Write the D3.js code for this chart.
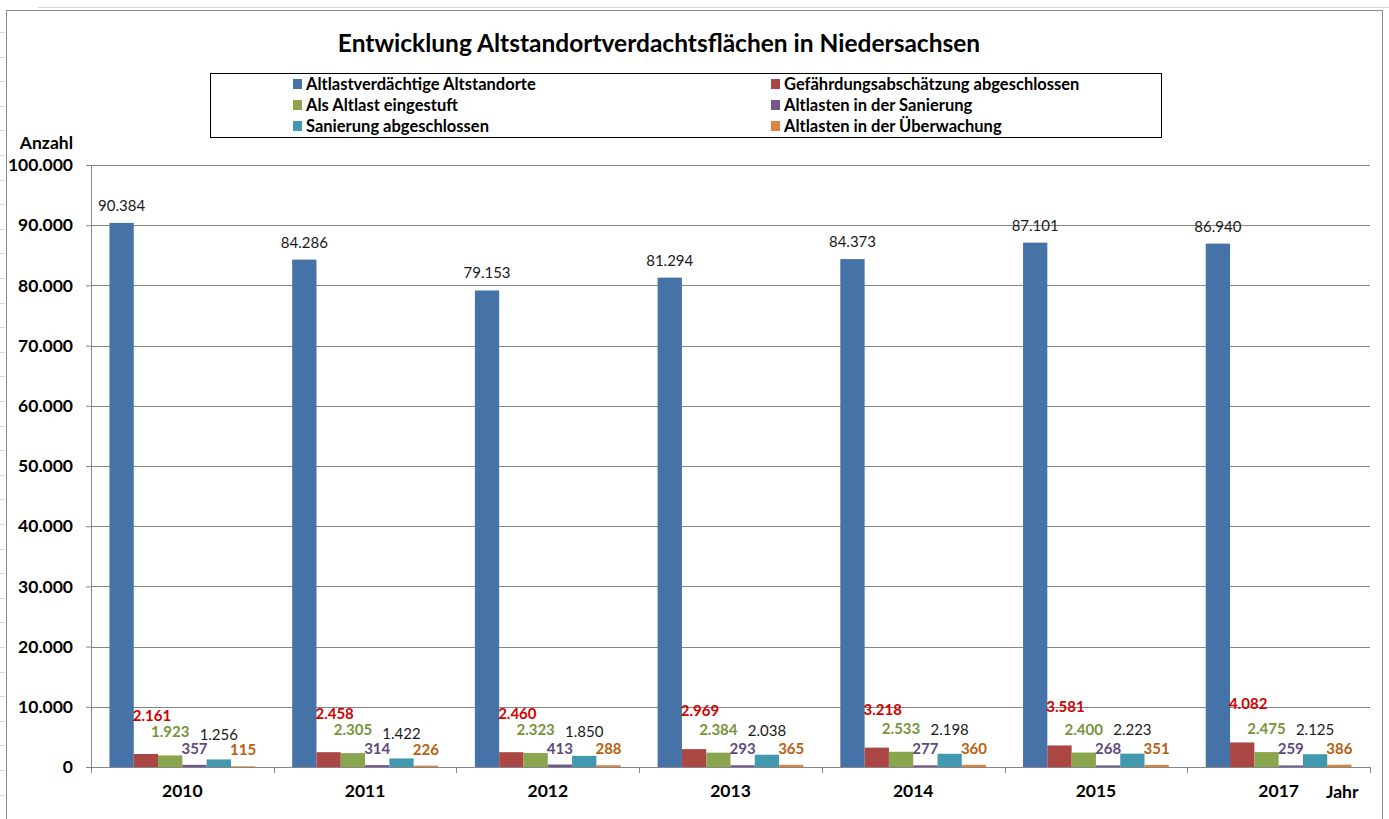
<!DOCTYPE html>
<html>
<head>
<meta charset="utf-8">
<script src="https://cdn.jsdelivr.net/npm/d3@7"></script>
<style>
  body { margin: 0; background: #fff; }
  svg { font-family: Lato, "Open Sans", sans-serif; }
</style>
</head>
<body>
<script>
const width = 1389;
const height = 819;

// Daten
const years = ['2010', '2011', '2012', '2013', '2014', '2015', '2017'];
const seriesNames = [
  'Altlastverdächtige Altstandorte',
  'Gefährdungsabschätzung abgeschlossen',
  'Als Altlast eingestuft',
  'Altlasten in der Sanierung',
  'Sanierung abgeschlossen',
  'Altlasten in der Überwachung'
];
const verdaechtig = [90384, 84286, 79153, 81294, 84373, 87101, 86940];
const gefaehrdung = [2161, 2458, 2460, 2969, 3218, 3581, 4082];
const eingestuft = [1923, 2305, 2323, 2384, 2533, 2400, 2475];
const inSanierung = [357, 314, 413, 293, 277, 268, 259];
const saniert = [1256, 1422, 1850, 2038, 2198, 2223, 2125];
const ueberwachung = [115, 226, 288, 365, 360, 351, 386];
const yTicks = [0, 10000, 20000, 30000, 40000, 50000, 60000, 70000, 80000, 90000, 100000];

const values = [verdaechtig, gefaehrdung, eingestuft, inSanierung, saniert, ueberwachung];

const barColors = ['#4572A7', '#AA4643', '#89A54E', '#71588F', '#4198AF', '#DB843D'];
const labelColors = ['#1a1a1a', '#d40000', '#77933C', '#604A7B', '#1a1a1a', '#B8600F'];
const labelBold = [false, true, true, true, false, true];
// Abstand Beschriftung über Balken (px) und seitlicher Versatz
const labelLift = [12, 33, 18, 11, 19, 11];
const labelShift = [0, 6, 0, 0, 0, 0];

const de = d3.formatLocale({ decimal: ',', thousands: '.', grouping: [3], currency: ['', ' €'] });
const fmt = de.format(',d');

const svg = d3.select('body').append('svg').attr('width', width).attr('height', height);

// Tabellenraster im Hintergrund (Excel)
svg.append('line').attr('x1', 38).attr('x2', width).attr('y1', 7.5).attr('y2', 7.5)
  .attr('stroke', '#d9d9d9');
d3.range(32, height, 24.6).forEach(y => {
  svg.append('line').attr('x1', 0).attr('x2', 5).attr('y1', Math.round(y) + 0.5).attr('y2', Math.round(y) + 0.5)
    .attr('stroke', '#d9d9d9');
});

// Diagrammrahmen
svg.append('rect').attr('x', 6.5).attr('y', 10.5).attr('width', 1376).attr('height', 830)
  .attr('fill', '#fff').attr('stroke', '#8c8c8c');

const margin = { left: 91, right: 1370, top: 165, bottom: 767 };

const x0 = d3.scaleBand().domain(years).range([margin.left, margin.right]).paddingInner(0).paddingOuter(0);
const x1 = d3.scaleBand().domain(d3.range(seriesNames.length)).range([0, x0.bandwidth()]).paddingInner(0).paddingOuter(0.76);
const y = d3.scaleLinear().domain([0, 100000]).range([margin.bottom, margin.top]);

// Titel
svg.append('text')
  .attr('x', 659).attr('y', 52)
  .attr('text-anchor', 'middle')
  .attr('font-size', 24.5).attr('font-weight', 'bold')
  .attr('fill', '#000')
  .text('Entwicklung Altstandortverdachtsflächen in Niedersachsen');

// Gitterlinien + y-Achse
const yAxis = svg.append('g')
  .attr('transform', `translate(${margin.left},0)`)
  .call(d3.axisLeft(y).tickValues(yTicks).tickFormat(fmt).tickSize(5).tickPadding(13));
yAxis.select('.domain').attr('stroke', '#868686').attr('d', `M0.5,${margin.top}V${margin.bottom + 6}`);
yAxis.selectAll('.tick line').attr('stroke', '#868686');
yAxis.selectAll('.tick text')
  .attr('font-size', 17.5).attr('font-weight', 'bold').attr('fill', '#000')
  .attr('font-family', 'Lato, sans-serif');

svg.append('g').selectAll('line')
  .data(yTicks.filter(d => d > 0))
  .join('line')
  .attr('x1', margin.left).attr('x2', margin.right)
  .attr('y1', d => Math.round(y(d)) + 0.5).attr('y2', d => Math.round(y(d)) + 0.5)
  .attr('stroke', '#868686');

svg.append('text')
  .attr('x', 73).attr('y', 149)
  .attr('text-anchor', 'end')
  .attr('font-size', 17.5).attr('font-weight', 'bold')
  .text('Anzahl');

// Balken
const groups = svg.append('g').selectAll('g')
  .data(years)
  .join('g')
  .attr('transform', d => `translate(${x0(d)},0)`);

groups.selectAll('rect')
  .data((d, i) => values.map((s, k) => ({ k, v: s[i] })))
  .join('rect')
  .attr('x', d => x1(d.k))
  .attr('width', x1.bandwidth())
  .attr('y', d => y(d.v))
  .attr('height', d => y(0) - y(d.v))
  .attr('fill', d => barColors[d.k]);

groups.selectAll('text')
  .data((d, i) => values.map((s, k) => ({ k, v: s[i] })))
  .join('text')
  .attr('x', d => x1(d.k) + x1.bandwidth() / 2 + labelShift[d.k])
  .attr('y', d => y(d.v) - labelLift[d.k])
  .attr('text-anchor', 'middle')
  .attr('font-size', 15)
  .attr('font-weight', d => labelBold[d.k] ? 'bold' : 'normal')
  .attr('fill', d => labelColors[d.k])
  .text(d => fmt(d.v));

// x-Achse
const xAxis = svg.append('g')
  .attr('transform', `translate(0,${margin.bottom})`)
  .call(d3.axisBottom(x0).tickSize(0).tickPadding(18));
xAxis.select('.domain').attr('stroke', '#868686').attr('d', `M${margin.left},0.5H${margin.right}`);
xAxis.selectAll('.tick text')
  .attr('font-size', 17.5).attr('font-weight', 'bold').attr('fill', '#000')
  .attr('font-family', 'Lato, sans-serif');

// Teilstriche an den Kategoriegrenzen
svg.append('g').selectAll('line')
  .data(years.slice(1).concat(['end']))
  .join('line')
  .attr('x1', d => Math.round(d === 'end' ? margin.right : x0(d)) + 0.5)
  .attr('x2', d => Math.round(d === 'end' ? margin.right : x0(d)) + 0.5)
  .attr('y1', margin.bottom).attr('y2', margin.bottom + 6)
  .attr('stroke', '#868686');

svg.append('text')
  .attr('x', 1326).attr('y', 798)
  .attr('font-size', 17.5).attr('font-weight', 'bold')
  .text('Jahr');

// Legende
const legend = svg.append('g');
legend.append('rect')
  .attr('x', 210.5).attr('y', 73.5).attr('width', 951).attr('height', 64)
  .attr('fill', '#fff').attr('stroke', '#000');

const legendCols = [293, 771];
const legendRows = [84, 105, 126];
const items = legend.selectAll('g')
  .data(seriesNames)
  .join('g')
  .attr('transform', (d, i) => `translate(${legendCols[i % 2]},${legendRows[Math.floor(i / 2)]})`);
items.append('rect')
  .attr('x', 0).attr('y', -5).attr('width', 9).attr('height', 10)
  .attr('fill', (d, i) => barColors[i]);
items.append('text')
  .attr('x', 13).attr('y', 5.5)
  .attr('font-size', 16.5).attr('font-weight', 'bold')
  .text(d => d);
</script>
</body>
</html>
